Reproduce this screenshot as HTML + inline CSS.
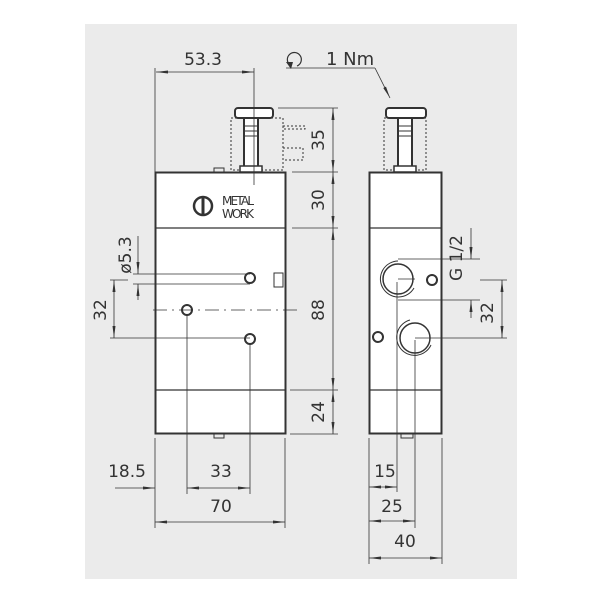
<!DOCTYPE html>
<html><head><style>body{margin:0;background:#fff}svg{display:block}text{font-family:"DejaVu Sans","Liberation Sans",sans-serif;fill:#333;font-size:17px}</style></head>
<body>
<svg width="600" height="600" viewBox="0 0 600 600" xmlns="http://www.w3.org/2000/svg">
<defs>
<marker id="a" viewBox="0 0 12 6" refX="12" refY="3" markerWidth="12" markerHeight="6" orient="auto-start-reverse" markerUnits="userSpaceOnUse"><path d="M0,1.5 L12,3 L0,4.5z" fill="#333"/></marker>
</defs>
<rect x="85" y="24" width="432" height="555" fill="#ebebeb"/>
<g stroke="#333" fill="none">
<rect x="155.5" y="172.5" width="130" height="261" fill="#fff" stroke-width="2"/>
<line x1="156" y1="228" x2="285" y2="228" stroke-width="1.2"/>
<line x1="156" y1="390" x2="285" y2="390" stroke-width="1.2"/>
<rect x="214" y="168" width="10" height="4" stroke-width="1"/>
<rect x="214" y="434" width="10" height="4" stroke-width="1"/>
<rect x="274" y="273" width="9" height="14" stroke-width="1"/>
<circle cx="250" cy="278" r="5" stroke-width="2"/>
<circle cx="187" cy="310" r="5" stroke-width="2"/>
<circle cx="250" cy="339" r="5" stroke-width="2"/>
<rect x="231" y="118" width="52" height="52" stroke-dasharray="2,2" stroke-width="1"/>
<rect x="283" y="126" width="22" height="3" stroke-dasharray="2,2" stroke-width="1"/>
<rect x="283" y="148" width="20" height="12" stroke-dasharray="2,2" stroke-width="1"/>
<rect x="244" y="118" width="14" height="52" fill="#fff" stroke-width="2"/>
<rect x="240" y="166" width="22" height="6" fill="#fff" stroke-width="1.5"/>
<rect x="235" y="108" width="38" height="10" rx="3" fill="#fff" stroke-width="2"/>
<line x1="245" y1="126" x2="257" y2="126"/><line x1="245" y1="131" x2="257" y2="131"/><line x1="245" y1="136" x2="257" y2="136"/>
<rect x="369.5" y="172.5" width="72" height="261" fill="#fff" stroke-width="2"/>
<line x1="370" y1="228" x2="441" y2="228" stroke-width="1.2"/>
<line x1="370" y1="390" x2="441" y2="390" stroke-width="1.2"/>
<rect x="401" y="434" width="12" height="4" stroke-width="1"/>
<rect x="384" y="118" width="42" height="52" stroke-dasharray="2,2" stroke-width="1"/>
<rect x="398" y="118" width="14" height="52" fill="#fff" stroke-width="2"/>
<rect x="394" y="166" width="22" height="6" fill="#fff" stroke-width="1.5"/>
<rect x="386" y="108" width="40" height="10" rx="3" fill="#fff" stroke-width="2"/>
<line x1="399" y1="126" x2="411" y2="126"/><line x1="399" y1="131" x2="411" y2="131"/><line x1="399" y1="136" x2="411" y2="136"/>
<circle cx="398" cy="279" r="15" stroke-width="1.5"/>
<path d="M398,261 A18,18 0 1,0 414,288" stroke-width="1"/>
<circle cx="415" cy="338" r="15" stroke-width="1.5"/>
<path d="M410,320 A18,18 0 1,0 431,345" stroke-width="1"/>
<circle cx="432" cy="280" r="5" stroke-width="2"/>
<circle cx="378" cy="337" r="5" stroke-width="2"/>
<circle cx="203" cy="206" r="9" stroke-width="2.5"/>
<line x1="203" y1="197" x2="203" y2="215" stroke-width="3"/>
</g>
<text x="222" y="205" style="font-size:12px" textLength="32">METAL</text>
<text x="222" y="218" style="font-size:12px" textLength="32">WORK</text>
<g stroke="#333" stroke-width="0.8" fill="none">
<line x1="155" y1="68" x2="155" y2="172"/><line x1="254" y1="68" x2="254" y2="185"/>
<line x1="156" y1="72" x2="254" y2="72" marker-start="url(#a)" marker-end="url(#a)"/>
<line x1="278" y1="108" x2="338" y2="108"/><line x1="292" y1="172" x2="338" y2="172"/>
<line x1="292" y1="228" x2="338" y2="228"/><line x1="290" y1="390" x2="338" y2="390"/><line x1="290" y1="434" x2="338" y2="434"/>
<line x1="333" y1="108" x2="333" y2="172" marker-start="url(#a)" marker-end="url(#a)"/>
<line x1="333" y1="172" x2="333" y2="228" marker-start="url(#a)" marker-end="url(#a)"/>
<line x1="333" y1="228" x2="333" y2="390" marker-start="url(#a)" marker-end="url(#a)"/>
<line x1="333" y1="390" x2="333" y2="434" marker-start="url(#a)" marker-end="url(#a)"/>
<line x1="153" y1="310" x2="300" y2="310" stroke-dasharray="14,5,2,5"/>
<line x1="133" y1="274" x2="250" y2="274"/><line x1="133" y1="284" x2="250" y2="284"/>
<line x1="138" y1="236" x2="138" y2="274" marker-end="url(#a)"/>
<line x1="138" y1="300" x2="138" y2="284" marker-end="url(#a)"/>
<line x1="110" y1="280" x2="128" y2="280"/><line x1="110" y1="338" x2="250" y2="338"/>
<line x1="114" y1="280" x2="114" y2="338" marker-start="url(#a)" marker-end="url(#a)"/>
<line x1="155" y1="438" x2="155" y2="528"/><line x1="285" y1="438" x2="285" y2="528"/>
<line x1="187" y1="315" x2="187" y2="494"/><line x1="250" y1="344" x2="250" y2="494"/>
<line x1="115" y1="488" x2="155" y2="488" marker-end="url(#a)"/>
<line x1="187" y1="488" x2="250" y2="488" marker-start="url(#a)" marker-end="url(#a)"/>
<line x1="155" y1="522" x2="285" y2="522" marker-start="url(#a)" marker-end="url(#a)"/>
<line x1="398" y1="259" x2="480" y2="259"/><line x1="398" y1="300" x2="480" y2="300"/>
<line x1="471" y1="228" x2="471" y2="259" marker-end="url(#a)"/>
<line x1="471" y1="318" x2="471" y2="300" marker-end="url(#a)"/>
<line x1="480" y1="280" x2="507" y2="280"/><line x1="415" y1="338" x2="507" y2="338"/>
<line x1="502" y1="280" x2="502" y2="338" marker-start="url(#a)" marker-end="url(#a)"/>
<line x1="398" y1="279" x2="415" y2="279"/>
<line x1="369" y1="438" x2="369" y2="564"/><line x1="442" y1="438" x2="442" y2="564"/>
<line x1="397" y1="282" x2="397" y2="492"/><line x1="415" y1="340" x2="415" y2="528"/>
<line x1="369" y1="487" x2="397" y2="487" marker-start="url(#a)" marker-end="url(#a)"/>
<line x1="369" y1="521" x2="415" y2="521" marker-start="url(#a)" marker-end="url(#a)"/>
<line x1="369" y1="558" x2="442" y2="558" marker-start="url(#a)" marker-end="url(#a)"/>
<line x1="286" y1="68" x2="375" y2="68"/>
<line x1="375" y1="68" x2="390" y2="98" marker-end="url(#a)"/>
<path d="M290,65 A7,7 0 1,1 297,66" stroke-width="1.2"/>
</g>
<path d="M286,62 L291,69 L293,62z" fill="#333"/>
<text x="203" y="65" text-anchor="middle">53.3</text>
<text x="326" y="65" style="font-size:18px">1 Nm</text>
<g text-anchor="middle">
<text transform="translate(324,140) rotate(-90)">35</text>
<text transform="translate(324,200) rotate(-90)">30</text>
<text transform="translate(324,310) rotate(-90)">88</text>
<text transform="translate(324,412) rotate(-90)">24</text>
<text transform="translate(131,255) rotate(-90)">ø5.3</text>
<text transform="translate(106,310) rotate(-90)">32</text>
<text transform="translate(462,258) rotate(-90)">G 1/2</text>
<text transform="translate(493,313) rotate(-90)">32</text>
<text x="127" y="477">18.5</text>
<text x="221" y="477">33</text>
<text x="221" y="512">70</text>
<text x="385" y="477">15</text>
<text x="392" y="512">25</text>
<text x="405" y="547">40</text>
</g>
</svg>
</body></html>
